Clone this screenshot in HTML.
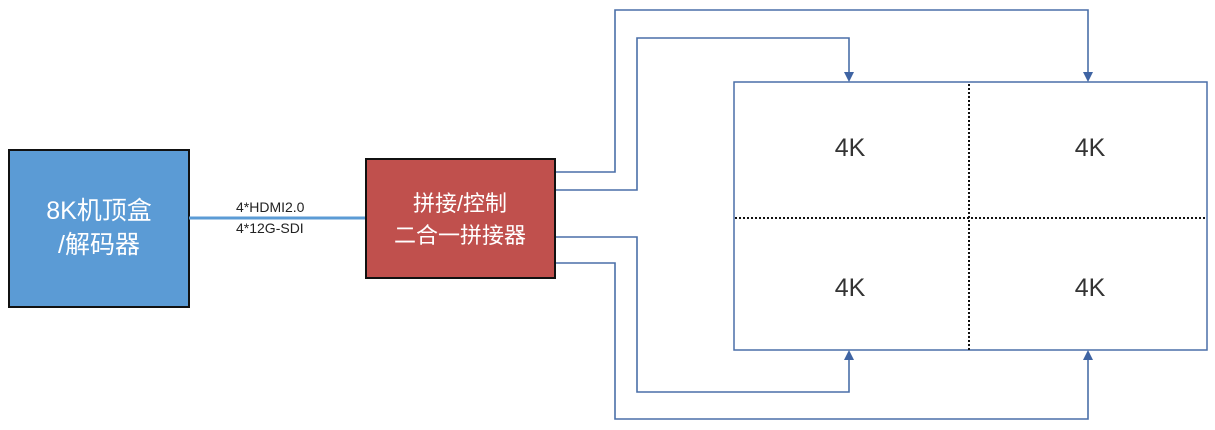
<!DOCTYPE html>
<html><head><meta charset="utf-8"><style>
body{margin:0;background:#fff;}
svg{display:block;}
</style></head><body>
<svg width="1215" height="430" xmlns="http://www.w3.org/2000/svg" font-family="Liberation Sans, Noto Sans CJK SC, sans-serif">
<rect x="9" y="150" width="180" height="157" fill="#5b9bd5" stroke="#111" stroke-width="2"/>
<text x="99" y="219" font-size="25" fill="#fff" text-anchor="middle">8K机顶盒</text>
<text x="99" y="253" font-size="25" fill="#fff" text-anchor="middle">/解码器</text>
<line x1="189" y1="218" x2="366" y2="218" stroke="#5b9bd5" stroke-width="3"/>
<text x="236" y="212" font-size="14" fill="#222">4*HDMI2.0</text>
<text x="236" y="233" font-size="14" fill="#222">4*12G-SDI</text>
<rect x="366" y="159" width="189" height="119" fill="#c0504d" stroke="#111" stroke-width="2"/>
<text x="460" y="211" font-size="22" fill="#fff" text-anchor="middle">拼接/控制</text>
<text x="460" y="243" font-size="22" fill="#fff" text-anchor="middle">二合一拼接器</text>
<g fill="none" stroke="#4a6fa8" stroke-width="1.6">
<polyline points="556,172 615,172 615,10 1088,10 1088,74"/>
<polyline points="556,190 637,190 637,38 849,38 849,74"/>
<polyline points="556,237 637,237 637,392 849,392 849,358"/>
<polyline points="556,263 615,263 615,419 1088,419 1088,358"/>
<rect x="734" y="82" width="473" height="268" stroke="#4a6fa8" stroke-width="1.5"/>
</g>
<g fill="#3f64a3">
<polygon points="844,72 854,72 849,82"/>
<polygon points="1083,72 1093,72 1088,82"/>
<polygon points="844,360 854,360 849,350"/>
<polygon points="1083,360 1093,360 1088,350"/>
</g>
<g stroke="#111" stroke-width="2" stroke-dasharray="2,2">
<line x1="969" y1="84" x2="969" y2="350"/>
<line x1="735" y1="218" x2="1206" y2="218"/>
</g>
<g font-size="25" fill="#333" text-anchor="middle">
<text x="850" y="156">4K</text>
<text x="1090" y="156">4K</text>
<text x="850" y="296">4K</text>
<text x="1090" y="296">4K</text>
</g>
</svg>
</body></html>
